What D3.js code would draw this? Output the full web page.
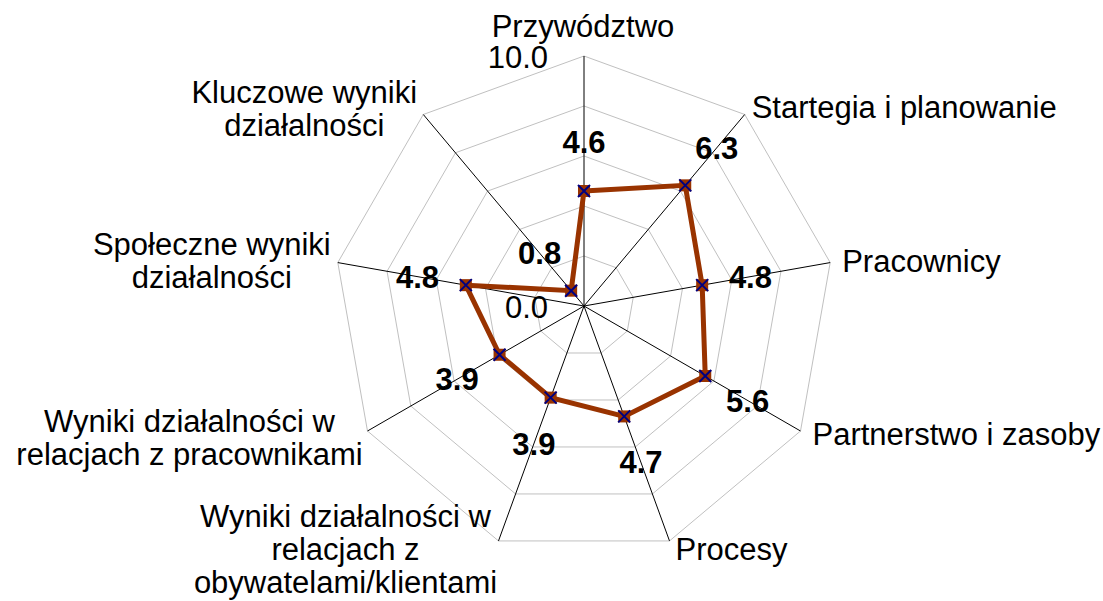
<!DOCTYPE html>
<html>
<head>
<meta charset="utf-8">
<script src="https://cdn.jsdelivr.net/npm/d3@7"></script>
<style>
  html, body { margin: 0; padding: 0; background: #fff; }
  svg { display: block; }
  text { font-family: "Liberation Sans", Arial, sans-serif; fill: #000; }
</style>
</head>
<body>
<svg id="chart" width="1103" height="601"></svg>
<script>
// ---- data ----
const categories = [
  ["Przywództwo"],
  ["Startegia i planowanie"],
  ["Pracownicy"],
  ["Partnerstwo i zasoby"],
  ["Procesy"],
  ["Wyniki działalności w", "relacjach z", "obywatelami/klientami"],
  ["Wyniki działalności w", "relacjach z pracownikami"],
  ["Społeczne wyniki", "działalności"],
  ["Kluczowe wyniki", "działalności"]
];
const values = [4.6, 6.3, 4.8, 5.6, 4.7, 3.9, 3.9, 4.8, 0.8];
const gridValues = [2, 4, 6, 8, 10];
const axisTickLabels = [0, 10];

// ---- layout (label placement relative to the outer vertex of each axis) ----
const labelLayout = [
  { anchor: "middle", dx: -1,   dy: -19 },
  { anchor: "start",  dx: 7,    dy: 3.5 },
  { anchor: "start",  dx: 12,   dy: 9 },
  { anchor: "start",  dx: 12,   dy: 14 },
  { anchor: "start",  dx: 6,    dy: 19 },
  { anchor: "middle", dx: -153, dy: -14 },
  { anchor: "middle", dx: -178, dy: 1 },
  { anchor: "middle", dx: -126, dy: -8 },
  { anchor: "middle", dx: -119, dy: -11 }
];

const cx = 584, cy = 306, R = 250;
const fontSize = 31;
const lineH = 33;
const color = "#993300";

const svg = d3.select("#chart");
const r = d3.scaleLinear().domain([0, 10]).range([0, R]);
const n = categories.length;
const angle = d3.scaleLinear().domain([0, n]).range([0, 2 * Math.PI]);

function pt(i, v) {
  const a = angle(i);
  return [cx + r(v) * Math.sin(a), cy - r(v) * Math.cos(a)];
}

// grid rings
const g = svg.append("g");
gridValues.forEach(gv => {
  const pts = d3.range(n).map(i => pt(i, gv));
  g.append("polygon")
    .attr("points", pts.map(p => p.join(",")).join(" "))
    .attr("fill", "none")
    .attr("stroke", "#c0c0c0")
    .attr("stroke-width", 1);
});

// spokes
d3.range(n).forEach(i => {
  const [x, y] = pt(i, 10);
  g.append("line")
    .attr("x1", cx).attr("y1", cy).attr("x2", x).attr("y2", y)
    .attr("stroke", "#000").attr("stroke-width", 1);
});

// axis tick labels (0.0 and 10.0) on first axis
axisTickLabels.forEach(v => {
  const [x, y] = pt(0, v);
  svg.append("text")
    .attr("x", x - 36).attr("y", y + 11.5)
    .attr("text-anchor", "end")
    .attr("font-size", fontSize)
    .text(d3.format(".1f")(v));
});

// series line
const linePts = values.map((v, i) => pt(i, v));
svg.append("path")
  .attr("d", d3.line().curve(d3.curveLinearClosed)(linePts))
  .attr("fill", "none")
  .attr("stroke", color)
  .attr("stroke-width", 5)
  .attr("stroke-linejoin", "miter");

// markers
const ms = 6;
linePts.forEach(([x, y]) => {
  const mg = svg.append("g").attr("transform", `translate(${x},${y})`);
  mg.append("rect")
    .attr("x", -ms).attr("y", -ms).attr("width", 2 * ms).attr("height", 2 * ms)
    .attr("fill", color);
  mg.append("path")
    .attr("d", `M${-ms},${-ms}L${ms},${ms}M${-ms},${ms}L${ms},${-ms}`)
    .attr("stroke", "#000080").attr("stroke-width", 2);
});

// value labels
values.forEach((v, i) => {
  const a = angle(i);
  const [x, y] = pt(i, v);
  const off = 49;
  svg.append("text")
    .attr("x", x + off * Math.sin(a))
    .attr("y", y - off * Math.cos(a) + 11)
    .attr("text-anchor", "middle")
    .attr("font-size", fontSize)
    .attr("font-weight", "bold")
    .text(d3.format(".1f")(v));
});

// category labels
categories.forEach((lines, i) => {
  const [vx, vy] = pt(i, 10);
  const L = labelLayout[i];
  const t = svg.append("text")
    .attr("text-anchor", L.anchor)
    .attr("font-size", fontSize);
  lines.forEach((s, k) => {
    t.append("tspan")
      .attr("x", vx + L.dx)
      .attr("y", vy + L.dy + k * lineH)
      .text(s);
  });
});
</script>
</body>
</html>
